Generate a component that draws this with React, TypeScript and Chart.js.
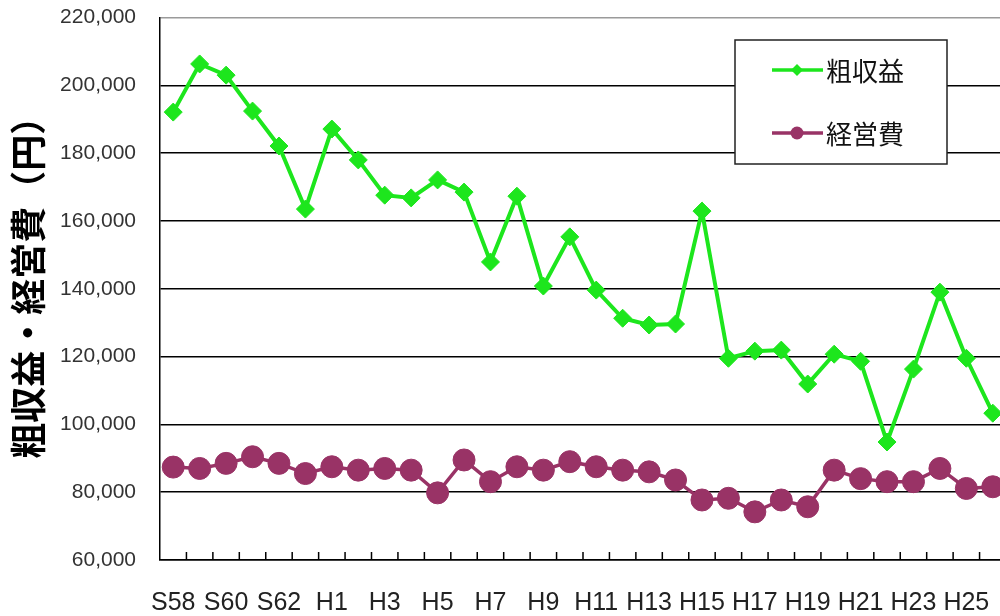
import { useEffect, useRef } from 'react';
import { Chart, registerables } from 'chart.js';

Chart.register(...registerables);

const categories = [
  'S58', 'S59', 'S60', 'S61', 'S62', 'S63',
  'H1', 'H2', 'H3', 'H4', 'H5', 'H6', 'H7', 'H8', 'H9', 'H10',
  'H11', 'H12', 'H13', 'H14', 'H15', 'H16', 'H17', 'H18', 'H19', 'H20',
  'H21', 'H22', 'H23', 'H24', 'H25', 'H26',
];

const grossIncome = [
  192100, 206300, 203000, 192400, 182100, 163500,
  187100, 178000, 167600, 166800, 172100, 168500, 147900, 167300, 140800, 155300,
  139600, 131300, 129300, 129600, 162900, 119500, 121600, 121900, 111900, 120700,
  118600, 94800, 116300, 139000, 119500, 103300,
];

const operatingCost = [
  87400, 87000, 88500, 90450, 88500, 85500,
  87500, 86500, 87000, 86500, 79800, 89500, 83100, 87500, 86500, 89000,
  87500, 86500, 86000, 83600, 77700, 78200, 74200, 77700, 75700, 86500,
  84000, 83100, 83100, 87000, 81100, 81600,
];

const seriesNames = ['粗収益', '経営費'];
const yMin = 60000;
const yMax = 220000;
const yStep = 20000;
const yTitle = '粗収益・経営費（円）';

const GREEN = '#1de61d';
const PURPLE = '#993366';

const innerTicksPlugin = {
  id: 'innerTicks',
  afterDraw(chart: any) {
    const x = chart.scales.x;
    const ctx = chart.ctx;
    const bottom = chart.chartArea.bottom;
    ctx.save();
    ctx.strokeStyle = '#000';
    ctx.lineWidth = 1.5;
    ctx.beginPath();
    for (let i = 0; i < categories.length; i++) {
      const a = x.getPixelForValue(i);
      const b = i + 1 < categories.length ? x.getPixelForValue(i + 1) : a + (a - x.getPixelForValue(i - 1));
      const px = (a + b) / 2;
      ctx.moveTo(px, bottom);
      ctx.lineTo(px, bottom - 8);
    }
    ctx.stroke();
    ctx.restore();
  },
};

const yTitlePlugin = {
  id: 'yTitle',
  afterDraw(chart: any) {
    const ctx = chart.ctx;
    const area = chart.chartArea;
    const cy = (area.top + area.bottom) / 2 - 10;
    ctx.save();
    ctx.translate(28, cy);
    ctx.rotate(-Math.PI / 2);
    ctx.fillStyle = '#000';
    ctx.font = 'bold 36px "Noto Sans CJK JP"';
    ctx.textAlign = 'center';
    ctx.textBaseline = 'middle';
    ctx.fillText(yTitle, 0, 0);
    ctx.restore();
  },
};

const legendBoxPlugin = {
  id: 'legendBox',
  afterDraw(chart: any) {
    const ctx = chart.ctx;
    const bx = 735, by = 40, bw = 212, bh = 124;
    ctx.save();
    ctx.fillStyle = '#fff';
    ctx.fillRect(bx, by, bw, bh);
    ctx.strokeStyle = '#222';
    ctx.lineWidth = 1.5;
    ctx.strokeRect(bx, by, bw, bh);
    const rows = [70, 133];
    chart.data.datasets.forEach((ds: any, i: number) => {
      const cy = rows[i];
      ctx.strokeStyle = ds.borderColor;
      ctx.lineWidth = 3.5;
      ctx.beginPath();
      ctx.moveTo(772, cy);
      ctx.lineTo(823, cy);
      ctx.stroke();
      ctx.fillStyle = ds.borderColor;
      ctx.beginPath();
      if (ds.pointStyle === 'rectRot') {
        const r = 6;
        ctx.moveTo(797 - r, cy);
        ctx.lineTo(797, cy - r);
        ctx.lineTo(797 + r, cy);
        ctx.lineTo(797, cy + r);
        ctx.closePath();
      } else {
        ctx.arc(797, cy, 6.5, 0, Math.PI * 2);
      }
      ctx.fill();
      ctx.fillStyle = '#111';
      ctx.font = '26px "Noto Sans CJK JP"';
      ctx.textBaseline = 'middle';
      ctx.textAlign = 'left';
      ctx.fillText(ds.label, 826, cy + 1);
    });
    ctx.restore();
  },
};

export default function App() {
  const ref = useRef<HTMLCanvasElement>(null);

  useEffect(() => {
    if (!ref.current) return;
    const chart = new Chart(ref.current, {
      type: 'line',
      data: {
        labels: categories,
        datasets: [
          {
            label: seriesNames[0],
            data: grossIncome,
            borderColor: GREEN,
            backgroundColor: GREEN,
            borderWidth: 4,
            pointStyle: 'rectRot',
            pointRadius: 9,
            pointBorderWidth: 1,
            pointBorderColor: GREEN,
            pointBackgroundColor: GREEN,
            tension: 0,
          },
          {
            label: seriesNames[1],
            data: operatingCost,
            borderColor: PURPLE,
            backgroundColor: PURPLE,
            borderWidth: 3.5,
            pointStyle: 'circle',
            pointRadius: 11,
            pointBorderWidth: 1,
            pointBorderColor: PURPLE,
            pointBackgroundColor: PURPLE,
            tension: 0,
          },
        ],
      },
      options: {
        responsive: false,
        animation: false,
        layout: { padding: { left: 0, right: 2, top: 17.5, bottom: 0 } },
        plugins: {
          legend: { display: false },
          tooltip: { enabled: false },
        },
        scales: {
          x: {
            type: 'category',
            offset: true,
            grid: { display: false, offset: true },
            border: { display: true, color: '#000', width: 1.5 },
            ticks: {
              autoSkip: false,
              maxRotation: 0,
              minRotation: 0,
              padding: 20,
              color: '#222',
              font: { family: '"Liberation Sans", Arial, sans-serif', size: 25 },
              callback: (_v: any, i: number) => (i % 2 === 0 ? categories[i] : ''),
            },
            afterFit: (s: any) => {
              s.height = 56;
            },
          },
          y: {
            min: yMin,
            max: yMax,
            grid: {
              drawTicks: true,
              tickLength: 24,
              tickColor: 'rgba(0,0,0,0)',
              color: (c: any) => (c.tick && c.tick.value === yMax ? '#9a9a9a' : '#000'),
              lineWidth: 1.5,
            },
            border: { display: true, color: '#000', width: 1.5 },
            ticks: {
              stepSize: yStep,
              padding: 0,
              color: '#333',
              font: { family: '"Liberation Sans", Arial, sans-serif', size: 21 },
              callback: (v: any) => Number(v).toLocaleString('en-US'),
            },
            title: { display: false },
            afterFit: (s: any) => {
              s.width = 160;
            },
          },
        },
      },
      plugins: [innerTicksPlugin, yTitlePlugin, legendBoxPlugin],
    } as any);
    return () => chart.destroy();
  }, []);

  return (
    <div style={{ position: 'fixed', left: 0, top: 0, width: 1000, height: 616, overflow: 'hidden', background: '#fff' }}>
      <canvas ref={ref} width={1018} height={616} style={{ display: 'block', width: 1018, height: 616 }} />
    </div>
  );
}
